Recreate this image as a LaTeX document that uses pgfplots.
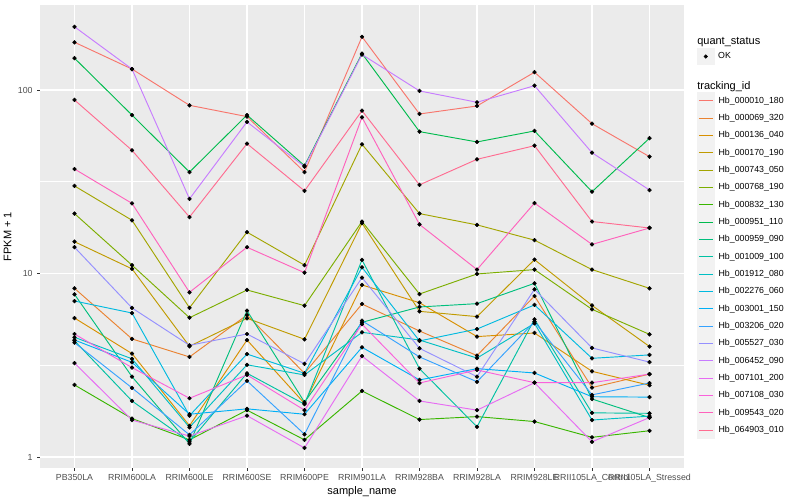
\documentclass[border=0pt]{standalone}
\usepackage{pgfplots}
\pgfplotsset{compat=1.18}
\usepackage{pgfplotstable}
\usepackage{fontspec}
\setmainfont{Liberation Sans}

\definecolor{panel}{HTML}{EBEBEB}
\definecolor{keybg}{HTML}{F2F2F2}
\definecolor{grey30}{HTML}{4D4D4D}
\definecolor{grey20}{HTML}{333333}
\definecolor{c1}{HTML}{F8766D}
\definecolor{c2}{HTML}{EA8331}
\definecolor{c3}{HTML}{D89000}
\definecolor{c4}{HTML}{C09B00}
\definecolor{c5}{HTML}{A3A500}
\definecolor{c6}{HTML}{7CAE00}
\definecolor{c7}{HTML}{39B600}
\definecolor{c8}{HTML}{00BB4E}
\definecolor{c9}{HTML}{00BF7D}
\definecolor{c10}{HTML}{00C1A3}
\definecolor{c11}{HTML}{00BFC4}
\definecolor{c12}{HTML}{00BAE0}
\definecolor{c13}{HTML}{00B0F6}
\definecolor{c14}{HTML}{35A2FF}
\definecolor{c15}{HTML}{9590FF}
\definecolor{c16}{HTML}{C77CFF}
\definecolor{c17}{HTML}{E76BF3}
\definecolor{c18}{HTML}{FA62DB}
\definecolor{c19}{HTML}{FF62BC}
\definecolor{c20}{HTML}{FF6C91}

% FPKM + 1 per sample (rows) and tracking id (columns s1..s20)
\pgfplotstableread{
x  s1    s2   s3   s4   s5   s6   s7   s8   s9   s10   s11  s12  s13  s14  s15  s16   s17  s18  s19  s20
0  182   8.3  5.72 14.9 30   21.2 2.47 149  7.7  4.3   4.49 7.08 4.34 4.2  13.9 221   3.25 4.68 37.1 88.2
1  130   4.4  3.66 10.6 19.5 11.1 1.62 73   2.74 2.02  3.43 6.09 3.28 2.38 6.49 130   1.59 3.07 24.1 46.9
2  82.5  3.51 1.48 4.01 6.5  5.74 1.24 35.7 1.18 1.21  1.45 1.68 1.71 1.32 4.06 25.5  1.3  2.09 7.9  20.3
3  71.6  5.94 4.34 5.7  16.8 8.13 1.8  73   6.27 2.86  3.18 3.64 1.83 2.6  4.68 67    1.68 2.8  13.9 51
4  35.7  2.86 1.96 4.38 11.1 6.68 1.24 38.7 1.99 1.94  2.8  2.86 1.71 1.33 3.22 38.2  1.12 1.8  10.1 28.2
5  195   6.82 8.66 18.8 50.6 19.2 2.29 158  5.42 11.85 4.78 10.8 3.96 5.53 9.49 156   3.55 5.29 71   77.1
6  74    4.86 6.93 6.22 21.2 7.73 1.6  59.3 6.57 3.03  4.34 4.29 2.63 3.51 3.91 98.8  2.02 2.53 18.5 30.4
7  81.8  3.57 4.53 5.82 18.4 9.94 1.66 52.1 6.85 1.46  3.46 4.98 3.03 2.57 2.74 85.7  1.8  2.98 10.5 41.9
8  125   7.54 4.74 11.9 15.2 10.5 1.56 59.8 8.84 5.63  5.35 6.74 2.87 5.46 8.2  105.5 2.54 2.54 24.2 49.7
9  65.5  2.39 2.93 6.7  10.5 6.38 1.28 27.9 2.07 1.74  1.59 3.45 2.13 2.18 3.93 45.5  1.21 2.54 14.4 19.2
10 43.3  2.83 2.46 4.0  8.3  4.66 1.39 54.6 1.64 1.73  1.67 3.6  2.12 2.53 3.29 28.5  1.64 2.83 17.7 17.7
}\data

\begin{document}
\begin{tikzpicture}
\useasboundingbox (-30pt,-24pt) rectangle (570pt,351pt);
\begin{axis}[
    at={(0,0)}, anchor=south west,
    scale only axis, width=483pt, height=347.25pt,
    ymode=log,
    xmin=-0.6, xmax=10.6, ymin=0.871, ymax=290.5,
    clip mode=individual,
    axis background/.style={fill=panel},
    axis line style={draw=none},
    grid=both,
    major grid style={white, line width=0.8pt},
    minor grid style={white, line width=0.4pt},
    xtick={0,...,10},
    xticklabels={PB350LA,RRIM600LA,RRIM600LE,RRIM600SE,RRIM600PE,RRIM901LA,RRIM928BA,RRIM928LA,RRIM928LE,RRII105LA\_Control,RRII105LA\_Stressed},
    ytick={1,10,100}, yticklabels={1,10,100},
    minor ytick={3.16228,31.6228},
    minor tick length=0pt,
    tick pos=left, tick align=outside, major tick length=2.06pt,
    tick style={grey20, line width=0.4pt},
    ticklabel style={font=\fontsize{6.6}{7}\selectfont, text=grey30},
    xticklabel style={yshift=1pt},
    xlabel={sample\_name}, ylabel={FPKM + 1},
    label style={font=\fontsize{8.25}{9}\selectfont},
    xlabel style={yshift=4pt},
    ylabel style={yshift=-2pt},
    legend style={draw=none, fill=none, at={(1.0202,0.8117)}, anchor=north west,
        inner sep=0pt, outer sep=0pt, row sep=0pt,
        nodes={inner sep=0pt, font=\fontsize{6.6}{7}\selectfont}},
    legend cell align=left,
    legend image code/.code={
        \fill[keybg] (0pt,-6.15pt) rectangle (12.75pt,6.15pt);
        \draw[#1, mark=none, line width=0.9pt] (1pt,0pt) -- (11.75pt,0pt);
        \path (15.5pt,0pt);
    },
    legend entries={Hb\_000010\_180,Hb\_000069\_320,Hb\_000136\_040,Hb\_000170\_190,Hb\_000743\_050,Hb\_000768\_190,Hb\_000832\_130,Hb\_000951\_110,Hb\_000959\_090,Hb\_001009\_100,Hb\_001912\_080,Hb\_002276\_060,Hb\_003001\_150,Hb\_003206\_020,Hb\_005527\_030,Hb\_006452\_090,Hb\_007101\_200,Hb\_007108\_030,Hb\_009543\_020,Hb\_064903\_010},
]
\pgfplotsinvokeforeach{1,...,20}{
    \addplot[color=c#1, line width=0.7pt, mark=none] table[x=x, y=s#1] {\data};
}
\pgfplotsinvokeforeach{1,...,20}{
    \addplot[only marks, mark=*, mark size=1.4pt, black, forget plot] table[x=x, y=s#1] {\data};
}
\node[anchor=west, inner sep=0pt, font=\fontsize{8.25}{9}\selectfont] at (rel axis cs:1.0202,0.920) {quant\_status};
\node[anchor=west, inner sep=0pt, font=\fontsize{8.25}{9}\selectfont] at (rel axis cs:1.0202,0.823) {tracking\_id};
\end{axis}
\begin{axis}[
    at={(0,0)}, anchor=south west,
    scale only axis, width=483pt, height=347.25pt,
    xmin=0, xmax=1, ymin=0, ymax=1, hide axis,
    legend style={draw=none, fill=none, at={(1.0202,0.907)}, anchor=north west,
        inner sep=0pt, outer sep=0pt,
        nodes={inner sep=0pt, font=\fontsize{6.6}{7}\selectfont}},
    legend image code/.code={
        \fill[keybg] (0pt,-6.15pt) rectangle (12.75pt,6.15pt);
        \fill[black] (6.375pt,0pt) circle (1.3pt);
        \path (15.5pt,0pt);
    },
]
\addlegendimage{black}
\addlegendentry{OK}
\end{axis}
\end{tikzpicture}
\end{document}
